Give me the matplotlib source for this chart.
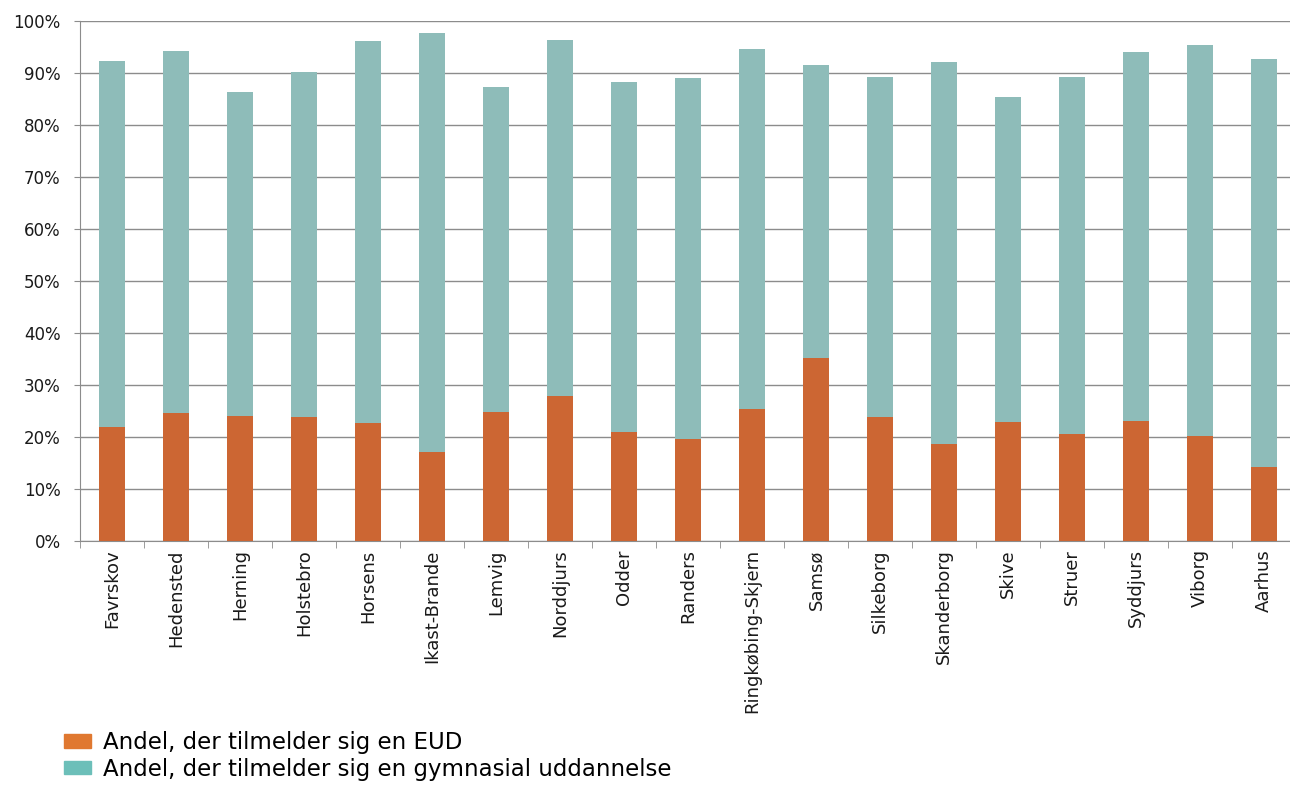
import numpy as np
import matplotlib.pyplot as plt
from matplotlib.patches import Patch
from matplotlib.ticker import FuncFormatter

kommuner = ["Favrskov", "Hedensted", "Herning", "Holstebro", "Horsens", "Ikast-Brande",
            "Lemvig", "Norddjurs", "Odder", "Randers", "Ringkøbing-Skjern", "Samsø",
            "Silkeborg", "Skanderborg", "Skive", "Struer", "Syddjurs", "Viborg", "Aarhus"]
eud = [21.9, 24.7, 24.1, 23.9, 22.7, 17.2, 24.9, 27.8, 21.0, 19.7,
       25.4, 35.1, 23.8, 18.6, 22.8, 20.6, 23.0, 20.2, 14.2]
total = [92.4, 94.3, 86.3, 90.1, 96.2, 97.6, 87.3, 96.3, 88.2, 89.1,
         94.6, 91.5, 89.3, 92.2, 85.3, 89.3, 94.0, 95.3, 92.7]
gym = [t - e for t, e in zip(total, eud)]

orange = "#CC6633"
teal = "#8EBCB9"

fig = plt.figure(figsize=(12.9, 7.85), dpi=100)
ax = fig.add_axes([80 / 1290, 1 - 541 / 785, 1216 / 1290, 520 / 785])

x = np.arange(len(kommuner))
ax.bar(x, eud, 0.4, color=orange, zorder=3)
ax.bar(x, gym, 0.4, bottom=eud, color=teal, zorder=3)

ax.set_xlim(-0.5, len(kommuner) - 0.5)
ax.set_ylim(0, 100)
ax.set_yticks(np.arange(0, 101, 10))
ax.yaxis.set_major_formatter(FuncFormatter(lambda v, p: f"{v:.0f}%"))
ax.grid(axis="y", color="#8c8c8c", linewidth=1, zorder=0)

ax.set_xticks(x)
ax.set_xticklabels(kommuner, rotation=90, fontsize=13, color="#1a1a1a")
ax.set_xticks(np.arange(-0.5, len(kommuner), 1), minor=True)
ax.tick_params(axis="x", which="major", length=0, pad=6)
ax.tick_params(axis="x", which="minor", length=5, color="#8c8c8c")
ax.tick_params(axis="y", length=4, color="#8c8c8c", labelsize=12, pad=10,
               labelcolor="#1a1a1a")

for s in ["top", "right"]:
    ax.spines[s].set_visible(False)
ax.spines["left"].set_color("#8c8c8c")
ax.spines["bottom"].set_color("#8c8c8c")

handles = [Patch(color="#E07830", label="Andel, der tilmelder sig en EUD"),
           Patch(color="#6CBFB9", label="Andel, der tilmelder sig en gymnasial uddannelse")]
fig.legend(handles=handles, loc="upper left", bbox_to_anchor=(55 / 1290, 1 - 722 / 785),
           frameon=False, fontsize=16.5, handlelength=1.15, handleheight=0.55,
           handletextpad=0.55, labelspacing=0.15, borderaxespad=0)

fig.savefig("out.png", dpi=100)
